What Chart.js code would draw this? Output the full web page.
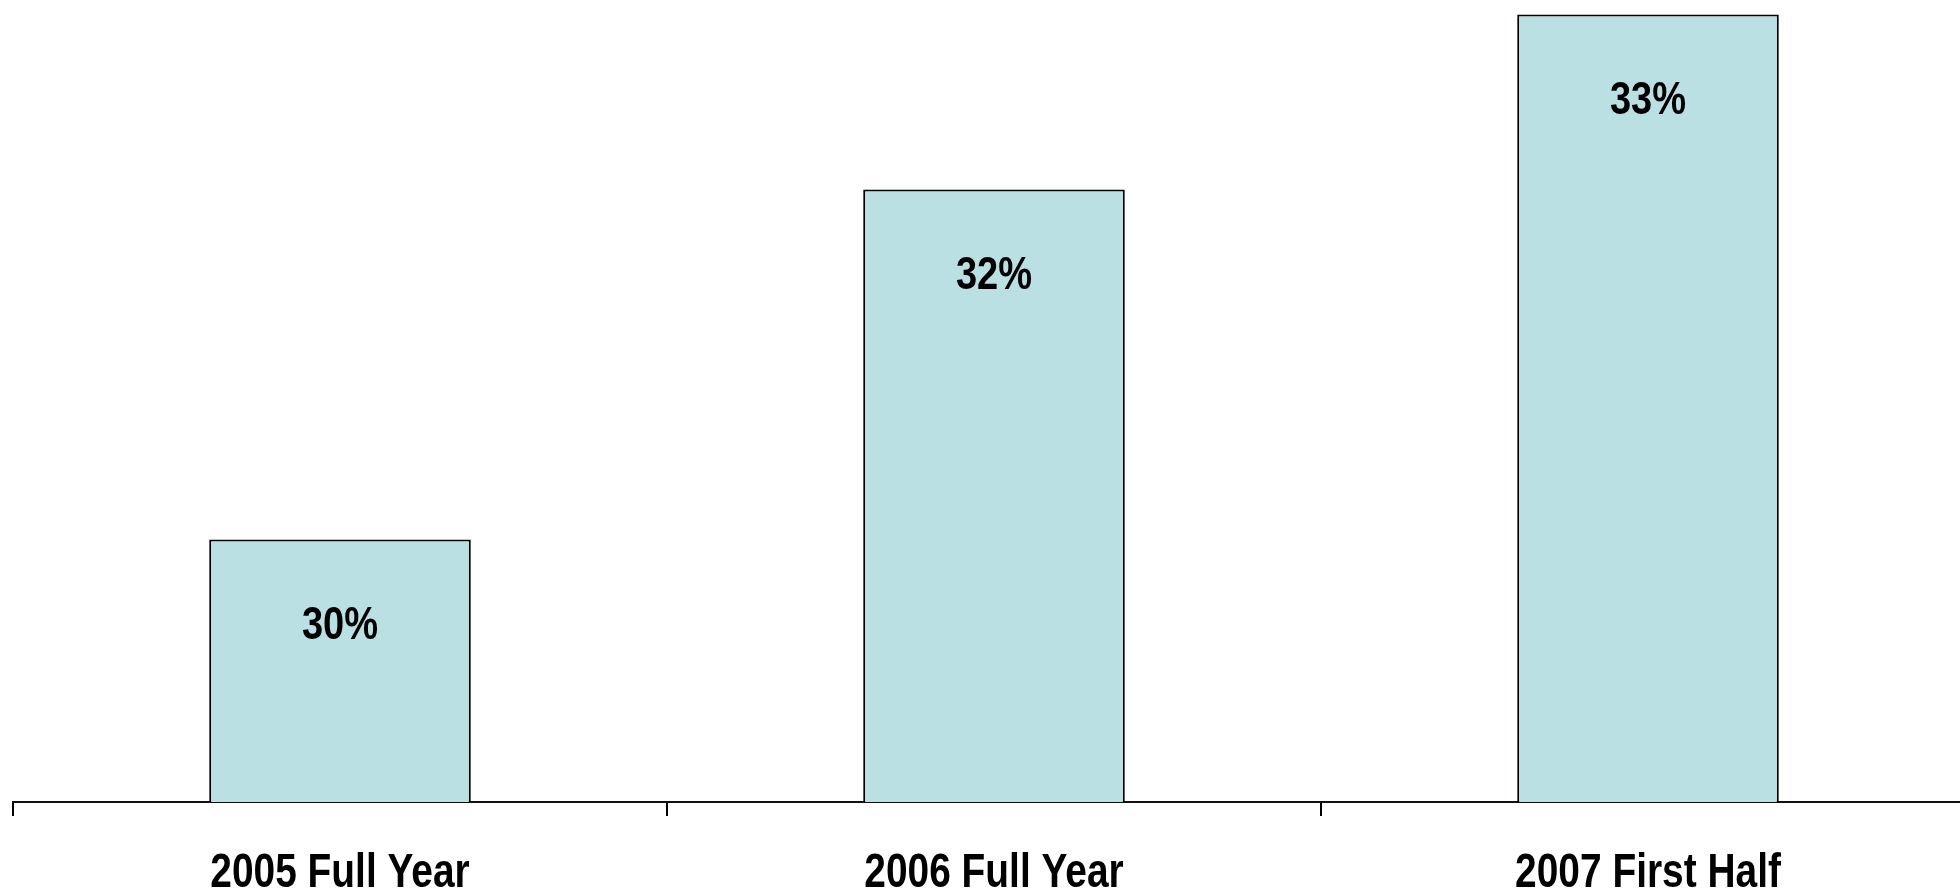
<!DOCTYPE html>
<html>
<head>
<meta charset="utf-8">
<script src="https://cdn.jsdelivr.net/npm/chart.js@4/dist/chart.umd.min.js"></script>
<style>
    html, body { margin: 0; padding: 0; background: #fff; overflow: hidden; }
    #wrap { width: 1975px; height: 893px; position: relative; }
</style>
</head>
<body>
<div id="wrap"><canvas id="share_chart"></canvas></div>
<script>
    "use strict";

    // chart data
    const periods = ['2005 Full Year', '2006 Full Year', '2007 First Half'];
    const shareValues = [30, 32, 33];
    const shareLabels = ['30%', '32%', '33%'];

    const FONT_FAMILY = "'Liberation Sans', Arial, sans-serif";
    const NARROW = 0.81; // squeeze Liberation Sans into an Arial Narrow look

    function drawNarrowText(ctx, text, x, y, size) {
        ctx.save();
        ctx.font = 'bold ' + size + 'px ' + FONT_FAMILY;
        ctx.fillStyle = '#000';
        ctx.textAlign = 'center';
        ctx.textBaseline = 'alphabetic';
        ctx.translate(x, y);
        ctx.scale(NARROW, 1);
        ctx.fillText(text, 0, 0);
        ctx.restore();
    }

    // percentage inside each bar + category names under the axis
    const textPlugin = {
        id: 'narrowText',
        afterDraw(chart) {
            const ctx = chart.ctx;
            const meta = chart.getDatasetMeta(0);
            meta.data.forEach(function (bar, i) {
                drawNarrowText(ctx, shareLabels[i], bar.x, bar.y + 99, 47);
            });
            const xScale = chart.scales.x;
            periods.forEach(function (name, i) {
                drawNarrowText(ctx, name, xScale.getPixelForValue(i), xScale.top + 85, 48);
            });
        },
    };

    const ctx = document.getElementById('share_chart').getContext('2d');
    new Chart(ctx, {
        type: 'bar',
        data: {
            labels: periods,
            datasets: [{
                data: shareValues,
                backgroundColor: '#BBE0E3',
                borderColor: '#000',
                borderWidth: 2,
                barPercentage: 0.4,
                categoryPercentage: 1,
            }],
        },
        options: {
            responsive: true,
            maintainAspectRatio: false,
            animation: false,
            layout: { padding: { left: 13, top: 0, right: 0, bottom: 0 } },
            plugins: {
                legend: { display: false },
                tooltip: { enabled: false },
            },
            scales: {
                x: {
                    grid: {
                        display: true,
                        drawOnChartArea: false,
                        drawTicks: true,
                        tickLength: 14,
                        color: '#000',
                        lineWidth: 2,
                        offset: true,
                    },
                    border: { display: true, color: '#111', width: 2 },
                    ticks: { display: false },
                    afterFit: function (scale) { scale.height = 91; },
                },
                y: {
                    display: false,
                    min: 28.5,
                    max: 33.083,
                },
            },
        },
        plugins: [textPlugin],
    });
</script>
</body>
</html>
